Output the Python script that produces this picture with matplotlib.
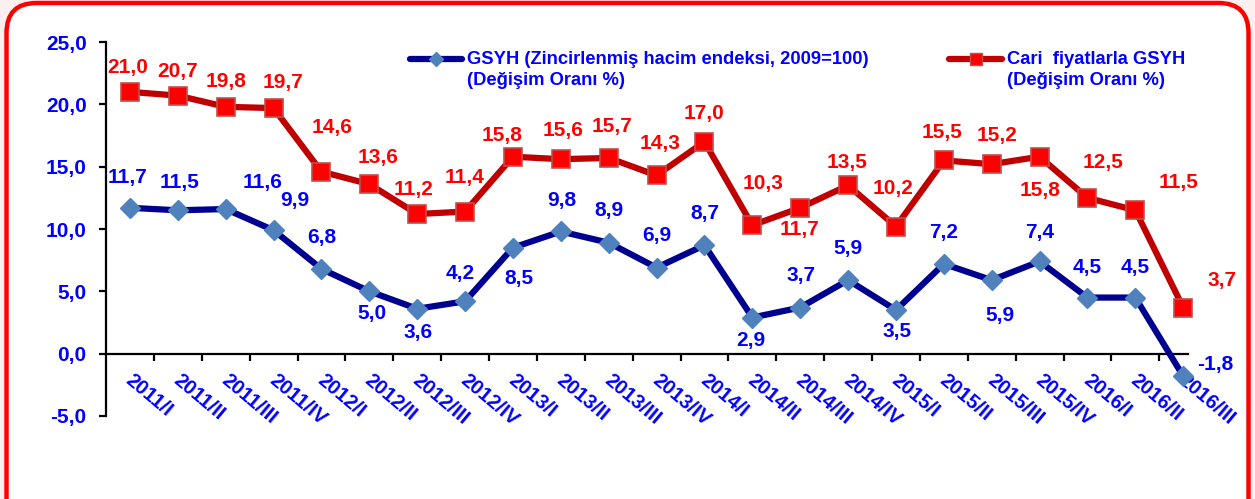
import matplotlib
matplotlib.use("Agg")
import matplotlib.pyplot as plt
from matplotlib.patches import FancyBboxPatch
from matplotlib.lines import Line2D
from matplotlib.transforms import ScaledTranslation
import numpy as np

plt.rcParams.update({"font.family": "Liberation Sans", "font.weight": "bold"})

quarters = ["2011/I", "2011/II", "2011/III", "2011/IV", "2012/I", "2012/II", "2012/III", "2012/IV",
            "2013/I", "2013/II", "2013/III", "2013/IV", "2014/I", "2014/II", "2014/III", "2014/IV",
            "2015/I", "2015/II", "2015/III", "2015/IV", "2016/I", "2016/II", "2016/III"]
gsyh_hacim = [11.7, 11.5, 11.6, 9.9, 6.8, 5.0, 3.6, 4.2, 8.5, 9.8, 8.9, 6.9, 8.7, 2.9, 3.7, 5.9,
              3.5, 7.2, 5.9, 7.4, 4.5, 4.5, -1.8]
gsyh_cari = [21.0, 20.7, 19.8, 19.7, 14.6, 13.6, 11.2, 11.4, 15.8, 15.6, 15.7, 14.3, 17.0, 10.3,
             11.7, 13.5, 10.2, 15.5, 15.2, 15.8, 12.5, 11.5, 3.7]

# label offsets in pixels (dx, dy up)
off_cari = [(-2, 24), (0, 24), (0, 25), (9, 26), (11, 44), (9, 27), (-4, 25), (-1, 34), (-11, 21),
            (2, 29), (3, 31), (3, 32), (0, 28), (11, 42), (-1, -22), (-1, 23), (-3, 38), (-2, 28),
            (5, 29), (0, -34), (16, 35), (43, 28), (39, 27)]
off_hacim = [(-2, 30), (2, 28), (37, 27), (21, 30), (0, 31), (3, -22), (1, -24), (-5, 28), (6, -31),
             (1, 31), (0, 32), (0, 32), (0, 32), (-2, -23), (1, 32), (0, 32), (1, -21), (0, 31),
             (8, -35), (0, 29), (0, 30), (0, 30), (32, 12)]

BLUE_TXT = "#0000FF"; RED_TXT = "#FF0000"
BLUE_LINE = "#000090"; BLUE_MK = "#4F81BD"
RED_LINE = "#C00000"; RED_MK = "#FF0000"; RED_EDGE = "#C0504D"

W, H = 1255, 499
fig = plt.figure(figsize=(W / 100, H / 100), dpi=100)
fig.patch.set_facecolor("#FBEFEF")
frame = FancyBboxPatch((0.065, -0.4), 12.42, 5.36, boxstyle="round,pad=0,rounding_size=0.3",
                       transform=fig.dpi_scale_trans, facecolor="white", edgecolor="#FF0000",
                       lw=3.2, zorder=-5)
fig.patches.append(frame)

ax = fig.add_axes([106 / W, (H - 416) / H, 1082 / W, 374 / H])
ax.patch.set_alpha(0)
ax.set_zorder(2)
x = np.arange(len(quarters))

ax.plot(x, gsyh_hacim, color=BLUE_LINE, lw=4.5, marker="D", ms=10, mfc=BLUE_MK, mec=BLUE_MK,
        zorder=3, clip_on=False)
ax.plot(x, gsyh_cari, color=RED_LINE, lw=4.5, marker="s", ms=12.5, mfc=RED_MK, mec=RED_EDGE,
        mew=1.2, zorder=3, clip_on=False)

def fmt(v):
    return f"{v:.1f}".replace(".", ",")

for xi, v, (dx, dy) in zip(x, gsyh_cari, off_cari):
    ax.annotate(fmt(v), (xi, v), xytext=(dx, dy), textcoords="offset pixels", ha="center",
                va="center", color=RED_TXT, fontsize=15, fontweight="bold", annotation_clip=False)
for xi, v, (dx, dy) in zip(x, gsyh_hacim, off_hacim):
    ax.annotate(fmt(v), (xi, v), xytext=(dx, dy), textcoords="offset pixels", ha="center",
                va="center", color=BLUE_TXT, fontsize=15, fontweight="bold", annotation_clip=False)

ax.set_xlim(-0.5, 22.1)
ax.set_ylim(-5, 25)
ax.set_yticks(np.arange(-5, 26, 5))
ax.set_yticklabels([fmt(t) for t in np.arange(-5, 26, 5)])
for s in ["top", "right"]:
    ax.spines[s].set_visible(False)
ax.spines["bottom"].set_position(("data", 0))
ax.spines["left"].set_linewidth(1.6)
ax.spines["bottom"].set_linewidth(1.6)
ax.tick_params(axis="y", direction="out", length=5, width=1.6, pad=9, labelsize=15,
               labelcolor=BLUE_TXT)
ax.set_xticks(x)
ax.set_xticklabels(quarters)
ax.set_xticks(x[:-1] + 0.5, minor=True)
ax.tick_params(axis="x", which="major", length=0, pad=12, labelsize=14.5, labelcolor=BLUE_TXT)
ax.tick_params(axis="x", which="minor", direction="out", length=5, width=1.6)
shift = ScaledTranslation(4 / 100, 0, fig.dpi_scale_trans)
for lab in ax.get_xticklabels():
    lab.set_rotation(-40)
    lab.set_rotation_mode("anchor")
    lab.set_ha("left")
    lab.set_va("top")
    lab.set_fontweight("bold")
    lab.set_transform(lab.get_transform() + shift)
for lab in ax.get_yticklabels():
    lab.set_fontweight("bold")

# legend keys
def key(x0, x1, y, color, mk, ms, mfc, mec):
    fig.add_artist(Line2D([x0 / W, x1 / W], [1 - y / H] * 2, color=color, lw=4.5,
                          solid_capstyle="round", transform=fig.transFigure))
    fig.add_artist(Line2D([(x0 + x1) / 2 / W], [1 - y / H], marker=mk, ms=ms, mfc=mfc, mec=mec,
                          transform=fig.transFigure))

key(410, 462, 59, BLUE_LINE, "D", 7, BLUE_MK, BLUE_MK)
key(949, 1002, 59, RED_LINE, "s", 8, RED_MK, RED_EDGE)
fig.text(467 / W, 1 - 51 / H, "GSYH (Zincirlenmiş hacim endeksi, 2009=100)\n(Değişim Oranı %)",
         ha="left", va="top", color=BLUE_TXT, fontsize=13.2, fontweight="bold", linespacing=1.3)
fig.text(1007 / W, 1 - 51 / H, "Cari  fiyatlarla GSYH\n(Değişim Oranı %)",
         ha="left", va="top", color=BLUE_TXT, fontsize=13.2, fontweight="bold", linespacing=1.3)

fig.savefig("out.png", dpi=100)
